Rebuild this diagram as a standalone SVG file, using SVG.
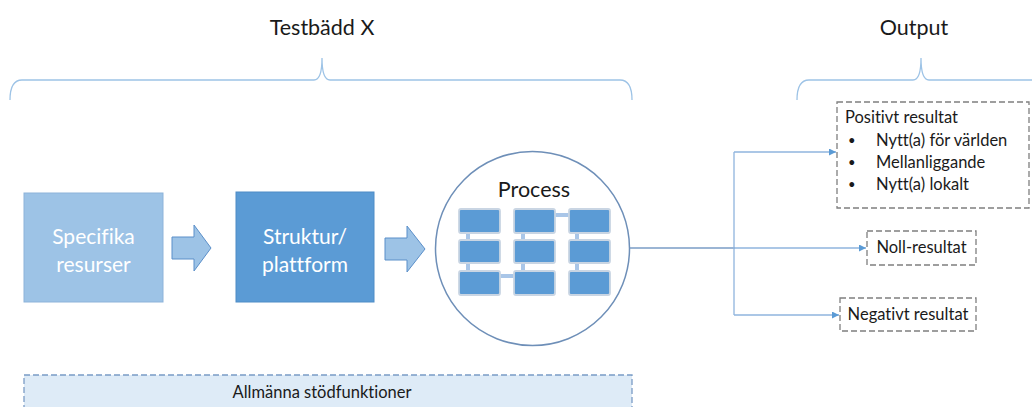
<svg xmlns="http://www.w3.org/2000/svg" width="1032" height="407" viewBox="0 0 1032 407">
<defs>
<style>
text{font-family:Lato,"Open Sans","Liberation Sans",sans-serif;fill:#1a1a1a;font-variant-ligatures:none}
.title{font-size:21.5px}
.white{fill:#ffffff;font-size:21px}
.small{font-size:16.5px}
.bul{font-size:13px}
.brace{fill:none;stroke:#9DC3E6;stroke-width:1.3}
.dash{fill:#ffffff;stroke:#7f7f7f;stroke-width:1.3;stroke-dasharray:6,3}
.pbox{fill:#5B9BD5;stroke:#C9D5E3;stroke-width:1.8}
.pcon{fill:#A9C6E8}
.conn{fill:none;stroke:#8FB4DE;stroke-width:1.3}
</style>
<marker id="ah" viewBox="0 0 10 10" refX="10" refY="5" markerWidth="7" markerHeight="7" markerUnits="userSpaceOnUse" orient="auto">
<path d="M0,0 L10,5 L0,10 z" fill="#5B9BD5"/>
</marker>
</defs>
<rect width="1032" height="407" fill="#ffffff"/>

<g id="testbadd-label">
<text class="title" x="322" y="35" text-anchor="middle">Testbädd X</text>
<path class="brace" d="M10,100 Q10,80 22,80 L314,80 Q322,80 322,58 Q322,80 330,80 L620,80 Q632,80 632,100"/>
</g>
<g id="output-label">
<text class="title" x="914" y="35" text-anchor="middle">Output</text>
<path class="brace" d="M797,100 Q797,80 809,80 L913,80 Q921,80 921,58 Q921,80 929,80 L1033,80 Q1045,80 1045,100"/>
</g>

<g id="specifika">
<rect x="24" y="193" width="139" height="109" fill="#9DC3E6" stroke="#8DB3DA" stroke-width="1"/>
<text class="white" x="93.5" y="244" text-anchor="middle">Specifika</text>
<text class="white" x="93.5" y="272" text-anchor="middle">resurser</text>
</g>

<g id="struktur">
<rect x="236" y="192" width="138" height="110" fill="#5B9BD5" stroke="#4E8CC6" stroke-width="1"/>
<text class="white" x="305" y="244" text-anchor="middle">Struktur/</text>
<text class="white" x="305" y="272" text-anchor="middle">plattform</text>
</g>

<g id="process">
<circle cx="532.5" cy="248.5" r="97" fill="#ffffff" stroke="#6E8FB8" stroke-width="1.5"/>
<text class="title" x="534" y="197" text-anchor="middle">Process</text>
<rect class="pcon" x="466" y="233" width="4" height="7"/>
<rect class="pcon" x="521" y="233" width="4" height="7"/>
<rect class="pcon" x="575" y="233" width="4" height="7"/>
<rect class="pcon" x="466" y="263" width="4" height="8"/>
<rect class="pcon" x="521" y="263" width="4" height="8"/>
<rect class="pcon" x="575" y="263" width="4" height="8"/>
<rect class="pcon" x="555" y="213" width="14" height="4"/>
<rect class="pcon" x="500" y="274" width="14" height="4"/>
<rect class="pbox" x="459" y="209" width="41" height="24" rx="2"/>
<rect class="pbox" x="514" y="209" width="41" height="24" rx="2"/>
<rect class="pbox" x="569" y="209" width="41" height="24" rx="2"/>
<rect class="pbox" x="459" y="240" width="41" height="23" rx="2"/>
<rect class="pbox" x="514" y="240" width="41" height="23" rx="2"/>
<rect class="pbox" x="569" y="240" width="41" height="23" rx="2"/>
<rect class="pbox" x="459" y="271" width="41" height="24" rx="2"/>
<rect class="pbox" x="514" y="271" width="41" height="24" rx="2"/>
<rect class="pbox" x="569" y="271" width="41" height="24" rx="2"/>
</g>

<g id="positivt">
<rect class="dash" x="837" y="102" width="192" height="106"/>
<text class="small" x="845" y="123">Positivt resultat</text>
<text class="bul" x="848" y="145">•</text>
<text class="small" x="876" y="146">Nytt(a) för världen</text>
<text class="bul" x="848" y="167">•</text>
<text class="small" x="876" y="168">Mellanliggande</text>
<text class="bul" x="848" y="189">•</text>
<text class="small" x="876" y="190">Nytt(a) lokalt</text>
</g>

<g id="noll">
<rect class="dash" x="867" y="231" width="109" height="34"/>
<text class="small" x="921.5" y="253" text-anchor="middle">Noll-resultat</text>
</g>

<g id="negativt">
<rect class="dash" x="840" y="298" width="136" height="33"/>
<text class="small" x="908" y="320" text-anchor="middle">Negativt resultat</text>
</g>

<g id="allmanna">
<rect x="24" y="375" width="608" height="40" fill="#DEEBF7" stroke="#7A9CC6" stroke-width="1.3" stroke-dasharray="6,3"/>
<text class="small" x="322" y="398" text-anchor="middle">Allmänna stödfunktioner</text>
</g>

<g id="connectors">
<polygon points="172,237 194,237 194,225 211,248 194,271 194,259 172,259" fill="#9DC3E6" stroke="#5B8FC9" stroke-width="1"/>
<polygon points="385,238 407,238 407,226 425,249 407,272 407,260 385,260" fill="#9DC3E6" stroke="#5B8FC9" stroke-width="1"/>
<path d="M630,248 L735,248" fill="none" stroke="#7A9CC6" stroke-width="1.3"/>
<path class="conn" d="M734,152 L734,315"/>
<path class="conn" d="M734,152 L836,152" marker-end="url(#ah)"/>
<path class="conn" d="M734,248 L866,248" marker-end="url(#ah)"/>
<path class="conn" d="M734,315 L839,315" marker-end="url(#ah)"/>
</g>
</svg>
